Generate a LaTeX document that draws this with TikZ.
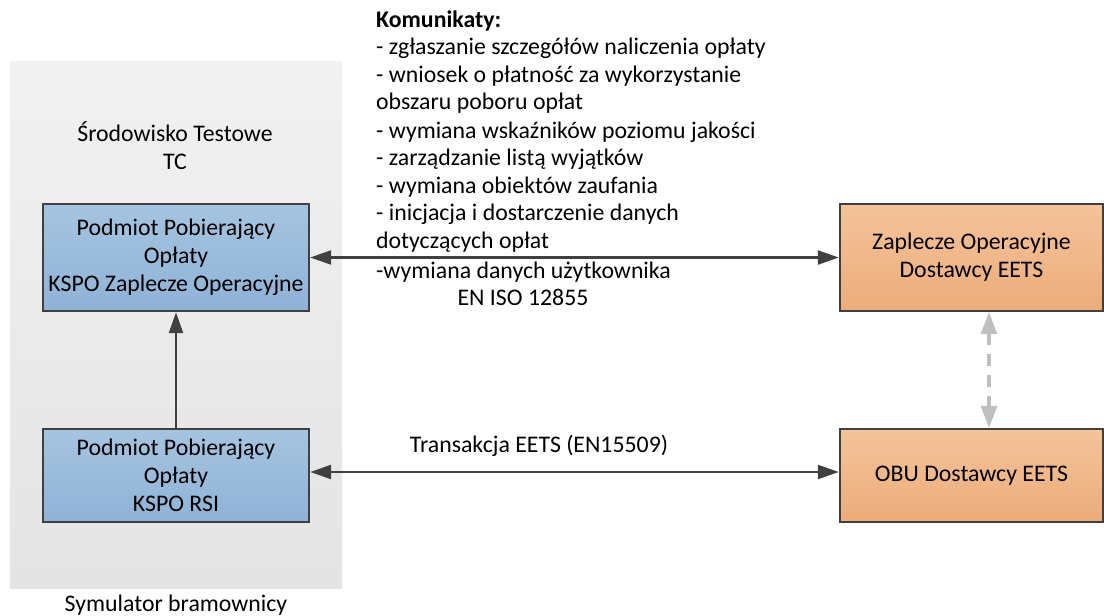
\documentclass[tikz,border=0pt]{standalone}
\usepackage{fontspec}
\setmainfont{Carlito}
\usetikzlibrary{arrows.meta}
\definecolor{bgtop}{RGB}{241,241,241}
\definecolor{bgbot}{RGB}{228,228,228}
\definecolor{bluetop}{RGB}{165,196,224}
\definecolor{bluebot}{RGB}{143,178,214}
\definecolor{orgtop}{RGB}{244,195,154}
\definecolor{orgbot}{RGB}{236,172,122}
\definecolor{edge}{RGB}{64,64,64}
\definecolor{dashc}{RGB}{191,191,191}
\tikzset{
  txt/.style={inner sep=0pt, font=\fontsize{23.8}{28}\selectfont},
  bluebox/.style={draw=edge, line width=2.4pt, top color=bluetop, bottom color=bluebot,
    minimum width=266pt, align=center, inner sep=0pt, font=\fontsize{23.8}{28}\selectfont},
  orgbox/.style={draw=edge, line width=2.4pt, top color=orgtop, bottom color=orgbot,
    minimum width=263pt, align=center, inner sep=0pt, font=\fontsize{23.8}{28}\selectfont},
  darrow/.style={draw=edge, line width=2.4pt, {Triangle[length=21pt,width=14pt]}-{Triangle[length=21pt,width=14pt]}},
  sarrow/.style={draw=edge, line width=2.4pt, -{Triangle[length=21pt,width=14pt]}},
  garrow/.style={draw=dashc, line width=3.2pt, dash pattern=on 12pt off 9pt,
    {Triangle[length=22pt,width=16pt]}-{Triangle[length=22pt,width=16pt]}},
}
\begin{document}
\begin{tikzpicture}[x=1pt,y=-1pt]
\useasboundingbox (0,0) rectangle (1104,616);
% background panel
\shade[top color=bgtop, bottom color=bgbot] (10,61) rectangle (342,588);
\node[txt, align=center] (env) at (175,146) {Środowisko Testowe\\TC};
\node[txt] (sym) at (176,605) {Symulator bramownicy};
% boxes
\node[bluebox, minimum height=107pt] (kspo) at (176,257.5) {Podmiot Pobierający\\Opłaty\\KSPO Zaplecze Operacyjne};
\node[bluebox, minimum height=93pt] (rsi) at (176,475.5) {Podmiot Pobierający\\Opłaty\\KSPO RSI};
\node[orgbox, minimum height=107pt] (zap) at (971.5,257.5) {Zaplecze Operacyjne\\Dostawcy EETS};
\node[orgbox, minimum height=93pt] (obu) at (971.5,475.5) {OBU Dostawcy EETS};
% connectors
\draw[darrow] (kspo.east) -- (zap.west);
\draw[darrow] ([yshift=3.5pt]rsi.east) -- ([yshift=3.5pt]obu.west);
\draw[sarrow] (rsi.north) -- (kspo.south);
\draw[garrow] (zap.south -| 989,0) -- (obu.north -| 989,0);
% message text
\foreach [count=\i] \t/\yb in {{\textbf{Komunikaty:}}/27,
  {- zgłaszanie szczegółów naliczenia opłaty}/54.5,
  {- wniosek o płatność za wykorzystanie}/82,
  {obszaru poboru opłat}/109.5,
  {- wymiana wskaźników poziomu jakości}/138,
  {- zarządzanie listą wyjątków}/165.5,
  {- wymiana obiektów zaufania}/193,
  {- inicjacja i dostarczenie danych}/220.5,
  {dotyczących opłat}/248,
  {-wymiana danych użytkownika}/278}
  \node[txt, anchor=base west] (k\i) at (376,\yb) {\t};
\node[txt, anchor=base] (iso) at (523,305) {EN ISO 12855};
\node[txt, anchor=base] (tr) at (539,452) {Transakcja EETS (EN15509)};
\end{tikzpicture}
\end{document}
